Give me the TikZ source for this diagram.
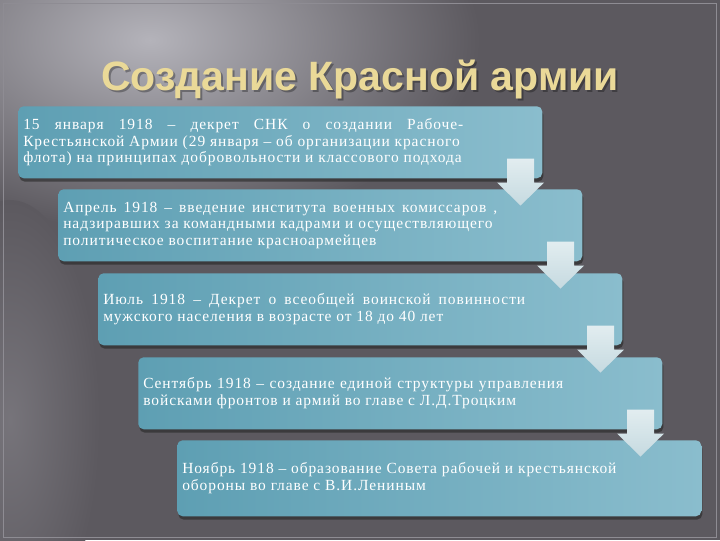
\documentclass[tikz,border=0pt]{standalone}
\usepackage{fontspec}
\setmainfont{Liberation Serif}
\newfontfamily\bodyfont[LetterSpace=6]{Liberation Serif}
\newfontfamily\titlefont{Liberation Sans}
\usetikzlibrary{shadows,calc}
\definecolor{bgbase}{HTML}{5C595F}
\definecolor{bglight}{HTML}{B4B3BA}
\definecolor{framecol}{HTML}{8E8C93}
\definecolor{boxL}{HTML}{5E9FB3}
\definecolor{boxM}{HTML}{A6CEDA}
\definecolor{boxR}{HTML}{8ABDCD}
\definecolor{arrTop}{HTML}{E2EDF0}
\definecolor{arrBot}{HTML}{C6DAE0}
\definecolor{titlecol}{HTML}{EAD998}
\newcommand\jl[2]{\makebox[#1][s]{#2}}
\newcommand\blkarrow[1]{%
  \shade[top color=arrTop, bottom color=arrBot]
    ($(#1.south east)+(-35.5,-20)$) -- ($(#1.south east)+(-8.5,-20)$) --
    ($(#1.south east)+(-8.5,4)$) -- ($(#1.south east)+(1.5,4)$) --
    ($(#1.south east)+(-22,27)$) -- ($(#1.south east)+(-45.5,4)$) --
    ($(#1.south east)+(-35.5,4)$) -- cycle;}
\begin{document}
\begin{tikzpicture}[x=0.75pt,y=-0.75pt,
  stepbox/.style={rectangle, rounded corners=4pt, inner sep=0pt, anchor=north west,
    left color=boxL, middle color=boxM, right color=boxR,
    drop shadow={shadow xshift=0.8pt, shadow yshift=-2.5pt, opacity=0.6, fill=black!85},
    minimum width=393pt, minimum height=54pt},
  bodytext/.style={anchor=west, inner sep=0pt, align=left, text=white,
    font=\bodyfont\fontsize{11.6pt}{12.4pt}\selectfont},
  titletext/.style={anchor=base, inner sep=0pt,
    font=\titlefont\bfseries\fontsize{30.75pt}{34pt}\selectfont}]
\useasboundingbox (0,0) rectangle (720,540);
\begin{scope}
  \clip (0,0) rectangle (720,540);
  \fill[bgbase] (0,0) rectangle (720,540);
  \shade[inner color=bglight, outer color=bgbase] (150,40) ellipse (330 and 190);
  \shade[inner color=bgbase!70!bglight, outer color=bgbase] (10,420) ellipse (90 and 220);
\end{scope}
\draw[framecol, line width=0.75pt] (3,3) rectangle (716,537);

\node[titletext, text=black, opacity=0.3] (titleshadow) at (362,92) {Создание Красной армии};
\node[titletext, text=titlecol] (title) at (360,90) {Создание Красной армии};

\node[stepbox] (b1) at (18,106) {};
\node[stepbox] (b2) at (58,189) {};
\node[stepbox] (b3) at (98,273) {};
\node[stepbox] (b4) at (138,357) {};
\node[stepbox, minimum height=57pt] (b5) at (177,440) {};

\node[bodytext] (t1) at ($(b1.west)+(5,0)$) {\jl{330pt}{15 января 1918 – декрет СНК о создании Рабоче-}\\
Крестьянской Армии (29 января – об организации красного\\
флота) на принципах добровольности и классового подхода};
\node[bodytext] (t2) at ($(b2.west)+(5,0)$) {\jl{325.5pt}{Апрель 1918 – введение института военных комиссаров ,}\\
надзиравших за командными кадрами и осуществляющего\\
политическое воспитание красноармейцев};
\node[bodytext] (t3) at ($(b3.west)+(5,0)$) {\jl{316.5pt}{Июль 1918 – Декрет о всеобщей воинской повинности}\\
мужского населения в возрасте от 18 до 40 лет};
\node[bodytext] (t4) at ($(b4.west)+(5,0)$) {\jl{315pt}{Сентябрь 1918 – создание единой структуры управления}\\
войсками фронтов и армий во главе с Л.Д.Троцким};
\node[bodytext] (t5) at ($(b5.west)+(5,0)$) {Ноябрь 1918 – образование Совета рабочей и крестьянской\\
обороны во главе с В.И.Лениным};

\blkarrow{b1}
\blkarrow{b2}
\blkarrow{b3}
\blkarrow{b4}
\end{tikzpicture}
\end{document}
